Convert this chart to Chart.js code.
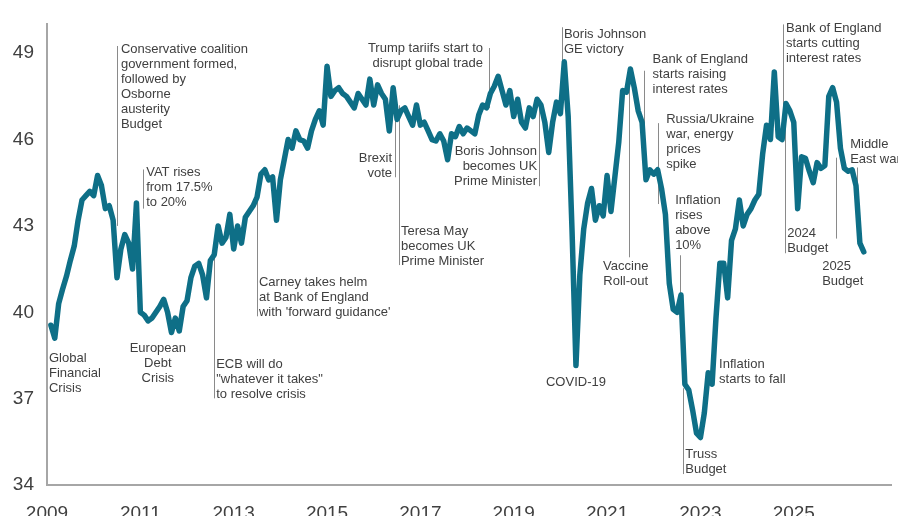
<!DOCTYPE html>
<html>
<head>
<meta charset="utf-8">
<script src="https://cdn.jsdelivr.net/npm/chart.js@4"></script>
<style>
  body { margin: 0; background: #fff; }
  #wrap { width: 898px; height: 516px; }
</style>
</head>
<body>
<div id="wrap"><canvas id="chart" width="898" height="516"></canvas></div>
<script>
// monthly readings, Jan..Dec of each year (Jan 2009 has no reading)
const y2009 = [null, 39.55, 39.1, 40.3, 40.8, 41.25, 41.8, 42.3, 43.2, 43.9, 44.05, 44.2];
const y2010 = [44.05, 44.75, 44.4, 43.6, 43.7, 43.2, 41.2, 42.2, 42.7, 42.4, 41.5, 43.8];
const y2011 = [40.0, 39.9, 39.7, 39.8, 40.0, 40.2, 40.45, 40.0, 39.3, 39.8, 39.35, 40.2];
const y2012 = [40.4, 41.2, 41.6, 41.7, 41.3, 40.5, 41.8, 42.0, 43.0, 42.4, 42.6, 43.4];
const y2013 = [42.2, 43.0, 42.4, 43.3, 43.5, 43.7, 44.0, 44.8, 44.95, 44.6, 44.7, 43.2];
const y2014 = [44.6, 45.3, 46.0, 45.7, 46.3, 46.0, 45.95, 45.7, 46.3, 46.7, 47.0, 46.5];
const y2015 = [48.55, 47.5, 47.7, 47.8, 47.6, 47.5, 47.3, 47.1, 47.6, 47.4, 47.2, 48.1];
const y2016 = [47.2, 47.9, 47.6, 47.4, 46.3, 47.8, 46.7, 47.0, 47.1, 46.8, 46.5, 47.2];
const y2017 = [46.5, 46.6, 46.3, 46.0, 45.95, 46.2, 45.95, 45.3, 46.2, 46.1, 46.45, 46.2];
const y2018 = [46.4, 46.3, 46.2, 46.85, 47.2, 47.1, 47.6, 47.85, 48.2, 47.7, 47.2, 47.7];
const y2019 = [46.8, 47.4, 46.6, 46.4, 47.1, 46.8, 47.4, 47.2, 46.6, 45.55, 46.6, 47.3];
const y2020 = [46.9, 48.7, 46.8, 42.8, 38.15, 41.3, 42.9, 43.8, 44.3, 43.2, 43.7, 43.35];
const y2021 = [44.75, 43.5, 44.7, 45.9, 47.7, 47.65, 48.45, 47.8, 47.0, 46.6, 44.6, 44.95];
const y2022 = [44.8, 44.95, 44.3, 43.4, 41.0, 40.1, 40.0, 40.6, 37.5, 37.3, 36.6, 35.8];
const y2023 = [35.65, 36.5, 37.9, 37.5, 39.8, 41.7, 41.7, 40.5, 42.5, 42.9, 43.9, 43.0];
const y2024 = [43.4, 43.6, 43.9, 44.1, 45.5, 46.5, 46.0, 48.35, 46.1, 46.0, 47.25, 47.0];
const y2025 = [46.6, 43.6, 45.4, 45.35, 44.9, 44.5, 45.2, 45.0, 45.1, 47.5, 47.8, 47.3];
const y2026 = [45.7, 45.0, 44.9, 44.95, 44.4, 42.4, 42.1];

const yearTicks = [2009, 2011, 2013, 2015, 2017, 2019, 2021, 2023, 2025];
const valueTicks = [34, 37, 40, 43, 46, 49];

// month categories Jan 2009 .. Feb 2027
const months = [];
for (let yr = 2009; yr <= 2027; yr++) {
  for (let mo = 1; mo <= 12; mo++) {
    if (yr === 2027 && mo > 2) break;
    months.push(yr + '-' + String(mo).padStart(2, '0'));
  }
}
const values = [].concat(y2009, y2010, y2011, y2012, y2013, y2014, y2015, y2016,
  y2017, y2018, y2019, y2020, y2021, y2022, y2023, y2024, y2025, y2026);

// event notes: line at month index x from value `from` to `to`,
// text anchored at month tx / value ty (first line)
const notes = [
  { x: 18.1, from: 49.25, to: 43.0, tx: 19.0, ty: 49.14, align: 'left',
    text: ['Conservative coalition', 'government formed,', 'followed by', 'Osborne', 'austerity', 'Budget'] },
  { x: 24.7, from: 44.96, to: 43.6, tx: 25.5, ty: 44.86, align: 'left',
    text: ['VAT rises', 'from 17.5%', 'to 20%'] },
  { tx: 0.5, ty: 38.4, align: 'left', text: ['Global', 'Financial', 'Crisis'] },
  { tx: 28.5, ty: 38.74, align: 'center', text: ['European', 'Debt', 'Crisis'] },
  { x: 42.9, from: 42.22, to: 37.01, tx: 43.5, ty: 38.19, align: 'left',
    text: ['ECB will do', '"whatever it takes"', 'to resolve crisis'] },
  { x: 54.1, from: 44.11, to: 39.86, tx: 54.5, ty: 41.05, align: 'left',
    text: ['Carney takes helm', 'at Bank of England', "with 'forward guidance'"] },
  { x: 89.4, from: 47.36, to: 44.69, tx: 88.7, ty: 45.36, align: 'right', text: ['Brexit', 'vote'] },
  { x: 90.4, from: 47.19, to: 41.64, tx: 91.0, ty: 42.81, align: 'left',
    text: ['Teresa May', 'becomes UK', 'Prime Minister'] },
  { x: 113.7, from: 49.18, to: 47.09, tx: 112.1, ty: 49.17, align: 'right',
    text: ['Trump tariifs start to', 'disrupt global trade'] },
  { x: 126.5, from: 47.19, to: 44.38, tx: 126.0, ty: 45.59, align: 'right',
    text: ['Boris Johnson', 'becomes UK', 'Prime Minister'] },
  { x: 132.4, from: 49.9, to: 47.7, tx: 132.9, ty: 49.65, align: 'left', text: ['Boris Johnson', 'GE victory'] },
  { tx: 136.0, ty: 37.56, align: 'center', text: ['COVID-19'] },
  { x: 149.7, from: 47.87, to: 41.91, tx: 148.8, ty: 41.6, align: 'center', text: ['Vaccine', 'Roll-out'] },
  { x: 153.6, from: 48.39, to: 44.86, tx: 155.7, ty: 48.77, align: 'left',
    text: ['Bank of England', 'starts raising', 'interest rates'] },
  { x: 157.2, from: 46.57, to: 43.76, tx: 159.2, ty: 46.71, align: 'left',
    text: ['Russia/Ukraine', 'war, energy', 'prices', 'spike'] },
  { x: 162.8, from: 41.98, to: 39.72, tx: 161.5, ty: 43.9, align: 'left',
    text: ['Inflation', 'rises', 'above', '10%'] },
  { x: 163.6, from: 37.36, to: 34.38, tx: 164.1, ty: 35.06, align: 'left', text: ['Truss', 'Budget'] },
  { tx: 172.8, ty: 38.19, align: 'left', text: ['Inflation', 'starts to fall'] },
  { x: 189.3, from: 50.0, to: 45.99, tx: 190.0, ty: 49.85, align: 'left',
    text: ['Bank of England', 'starts cutting', 'interest rates'] },
  { x: 189.8, from: 46.85, to: 42.05, tx: 190.3, ty: 42.74, align: 'left', text: ['2024', 'Budget'] },
  { x: 202.9, from: 45.37, to: 42.56, tx: 199.3, ty: 41.61, align: 'left', text: ['2025', 'Budget'] },
  { x: 208.2, from: 45.03, to: 44.11, tx: 206.5, ty: 45.82, align: 'left', text: ['Middle', 'East war'] }
];

const notesPlugin = {
  id: 'notes',
  beforeDatasetsDraw(chart) {
    const { ctx, scales: { x, y } } = chart;
    ctx.save();
    ctx.strokeStyle = '#8a8a8a';
    ctx.lineWidth = 1;
    notes.forEach(n => {
      if (n.x == null) return;
      const px = Math.round(x.getPixelForValue(n.x)) + 0.5;
      ctx.beginPath();
      ctx.moveTo(px, y.getPixelForValue(n.from));
      ctx.lineTo(px, y.getPixelForValue(n.to));
      ctx.stroke();
    });
    ctx.restore();
  },
  afterDatasetsDraw(chart) {
    const { ctx, scales: { x, y } } = chart;
    ctx.save();
    ctx.font = '13px "Liberation Sans", Arial, sans-serif';
    ctx.fillStyle = '#404040';
    ctx.textBaseline = 'middle';
    notes.forEach(n => {
      ctx.textAlign = n.align;
      const px = x.getPixelForValue(n.tx);
      const py = y.getPixelForValue(n.ty);
      n.text.forEach((t, i) => ctx.fillText(t, px, py + i * 15));
    });
    ctx.restore();
  }
};

new Chart(document.getElementById('chart'), {
  type: 'line',
  data: {
    labels: months,
    datasets: [{
      data: values,
      borderColor: '#0e6f87',
      borderWidth: 5.5,
      borderCapStyle: 'round',
      borderJoinStyle: 'round',
      pointRadius: 0,
      tension: 0,
      fill: false
    }]
  },
  options: {
    responsive: false,
    animation: false,
    layout: { padding: { top: 18, right: 7, left: 0, bottom: 0 } },
    plugins: { legend: { display: false }, tooltip: { enabled: false } },
    scales: {
      x: {
        type: 'category',
        offset: false,
        grid: { display: false, drawTicks: false },
        border: { display: true, color: '#a6a6a6', width: 2 },
        afterFit: s => { s.height = 31; s.paddingLeft = 0; s.paddingRight = 0; },
        ticks: {
          autoSkip: false,
          maxRotation: 0,
          padding: 17,
          color: '#404040',
          font: { family: '"Liberation Sans", Arial, sans-serif', size: 19 },
          callback: function (v, i) {
            const yr = 2009 + Math.floor(i / 12);
            return (i % 12 === 0 && yearTicks.includes(yr)) ? String(yr) : '';
          }
        }
      },
      y: {
        min: 34,
        max: 50,
        grid: { display: false, drawTicks: false },
        border: { display: true, color: '#a6a6a6', width: 2 },
        afterFit: s => { s.width = 47; },
        afterBuildTicks: s => { s.ticks = valueTicks.map(v => ({ value: v })); },
        ticks: {
          padding: 13,
          color: '#404040',
          font: { family: '"Liberation Sans", Arial, sans-serif', size: 19 }
        }
      }
    }
  },
  plugins: [notesPlugin]
});
</script>
</body>
</html>
